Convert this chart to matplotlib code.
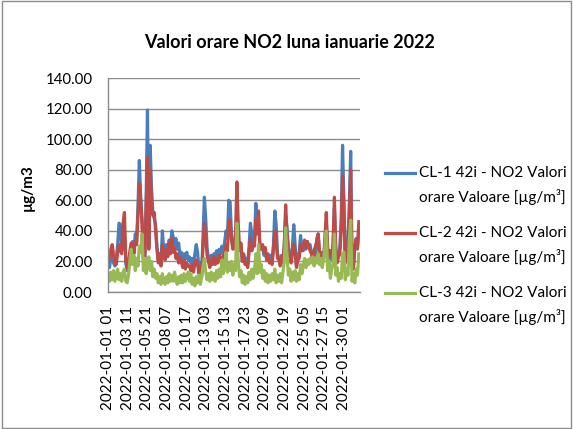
import matplotlib
matplotlib.use("Agg")
import matplotlib.pyplot as plt
from matplotlib.lines import Line2D
from matplotlib.patches import Rectangle

# Hour index (0 = 2022-01-01 01:00), sampled every 4 hours
hour_index = list(range(0, 744, 4))

tick_labels = ["2022-01-01 01", "2022-01-03 11", "2022-01-05 21", "2022-01-08 07",
               "2022-01-10 17", "2022-01-13 03", "2022-01-15 13", "2022-01-17 23",
               "2022-01-20 09", "2022-01-22 19", "2022-01-25 05", "2022-01-27 15",
               "2022-01-30 01"]
tick_positions = [0, 58, 116, 174, 232, 290, 348, 406, 464, 522, 580, 638, 696]

cl1 = [20, 16, 23, 26, 19, 17,
       22, 31, 45, 44, 27, 38,
       40, 19, 14, 18, 23, 30,
       33, 26, 38, 33, 56, 86,
       62, 48, 25, 20, 60, 119,
       30, 96, 68, 52, 48, 44,
       30, 21, 25, 19, 40, 27,
       24, 31, 26, 34, 29, 40,
       36, 31, 35, 28, 32, 24,
       26, 21, 25, 22, 26, 21,
       23, 19, 22, 18, 25, 31,
       26, 15, 19, 14, 36, 62,
       48, 29, 22, 19, 24, 20,
       25, 21, 27, 22, 28, 25,
       30, 26, 33, 40, 35, 60,
       59, 38, 30, 34, 28, 50,
       35, 27, 30, 21, 25, 19,
       22, 18, 30, 45, 38, 30,
       35, 58, 40, 45, 30, 28,
       29, 24, 27, 21, 25, 20,
       24, 20, 31, 53, 44, 25,
       22, 19, 24, 20, 31, 50,
       42, 29, 24, 20, 30, 44,
       30, 17, 23, 26, 37, 29,
       27, 32, 28, 33, 30, 31,
       26, 21, 27, 24, 35, 38,
       25, 21, 26, 22, 30, 45,
       27, 22, 25, 21, 30, 55,
       28, 20, 24, 30, 48, 96,
       60, 21, 27, 35, 58, 92,
       20, 17, 30, 35, 28, 40]

cl2 = [20, 23, 28, 31, 24, 18,
       18, 26, 31, 27, 25, 45,
       52, 21, 15, 19, 27, 32,
       30, 25, 33, 31, 50, 71,
       60, 44, 22, 19, 55, 88,
       28, 80, 58, 50, 52, 40,
       28, 19, 23, 17, 31, 24,
       21, 28, 23, 32, 25, 35,
       26, 29, 22, 25, 19, 23,
       20, 16, 21, 15, 19, 17,
       17, 14, 18, 13, 19, 21,
       18, 12, 16, 10, 30, 45,
       36, 24, 20, 16, 21, 18,
       23, 18, 22, 19, 24, 21,
       21, 24, 26, 31, 27, 47,
       47, 34, 28, 32, 38, 72,
       45, 28, 32, 20, 24, 18,
       19, 16, 26, 35, 27, 31,
       30, 47, 38, 53, 30, 28,
       31, 26, 29, 21, 24, 19,
       21, 18, 28, 40, 33, 22,
       21, 17, 23, 19, 31, 57,
       38, 27, 24, 19, 26, 31,
       25, 16, 21, 22, 31, 27,
       30, 34, 29, 33, 30, 27,
       25, 21, 27, 30, 33, 38,
       26, 22, 24, 22, 36, 52,
       29, 24, 27, 23, 32, 62,
       26, 19, 23, 25, 40, 76,
       55, 19, 25, 30, 50, 80,
       17, 15, 28, 34, 29, 46]

cl3 = [12, 7, 13, 8, 14, 7,
       11, 15, 8, 12, 7, 13,
       15, 7, 6, 11, 20, 28,
       18, 24, 14, 22, 17, 30,
       26, 38, 14, 22, 12, 19,
       23, 14, 20, 10, 15, 9,
       12, 6, 10, 5, 12, 7,
       5, 10, 6, 12, 7, 11,
       7, 13, 8, 5, 10, 6,
       11, 6, 12, 7, 10, 13,
       7, 12, 5, 9, 4, 10,
       6, 11, 5, 10, 17, 22,
       13, 8, 12, 7, 13, 8,
       12, 7, 14, 9, 15, 10,
       21, 12, 18, 26, 13, 19,
       14, 20, 11, 18, 14, 45,
       20, 10, 14, 6, 11, 5,
       10, 6, 13, 8, 15, 9,
       14, 25, 12, 31, 13, 18,
       9, 14, 7, 12, 6, 11,
       7, 12, 8, 15, 6, 11,
       7, 12, 6, 13, 20, 42,
       24, 11, 15, 7, 13, 8,
       14, 7, 12, 8, 18, 12,
       17, 22, 16, 21, 18, 22,
       19, 23, 17, 22, 19, 25,
       18, 22, 16, 21, 30, 40,
       14, 20, 9, 15, 19, 38,
       11, 16, 7, 12, 9, 25,
       26, 8, 15, 11, 34, 47,
       7, 12, 6, 15, 11, 25]

series_labels = ["CL-1 42i - NO2 Valori\norare Valoare [µg/m³]",
                 "CL-2 42i - NO2 Valori\norare Valoare [µg/m³]",
                 "CL-3 42i - NO2 Valori\norare Valoare [µg/m³]"]
colors = ["#4A7EBB", "#BE4B48", "#98B954"]

plt.rcParams['font.family'] = ['Lato', 'DejaVu Sans']

W, H = 573, 429
fig = plt.figure(figsize=(W / 100, H / 100), dpi=100)
ax = fig.add_axes([108 / W, 1 - 292 / H, 252 / W, 214 / H])

for vals, c in zip([cl1, cl2, cl3], colors):
    ax.plot(hour_index, vals, color=c, lw=2.3, solid_joinstyle='round')

ax.set_xlim(-0.5, 743.5)
ax.set_ylim(0, 140)
ax.set_yticks(range(0, 141, 20))
ax.set_yticklabels([f"{v:.2f}" for v in range(0, 141, 20)], fontsize=10.8)
ax.set_xticks(tick_positions)
ax.set_xticklabels(tick_labels, rotation=90, fontsize=11)
ax.tick_params(axis='y', length=0, pad=11)
ax.tick_params(axis='x', length=0, pad=10)
ax.yaxis.grid(True, color="#8C8C8C", lw=1)
ax.set_axisbelow(True)
for s in ["top", "right"]:
    ax.spines[s].set_visible(False)
for s in ["left", "bottom"]:
    ax.spines[s].set_color("#8C8C8C")
    ax.spines[s].set_linewidth(1)

ax.set_ylabel("µg/m3", fontsize=11, fontweight='bold')
ax.yaxis.set_label_coords((35 - 108) / 252, (292 - 188) / 214)

fig.text(290 / W, 1 - 42 / H, "Valori orare NO2 luna ianuarie 2022", ha='center',
         va='center', fontsize=13, fontweight='bold')

# Legend (Excel style: marker aligned with first text line)
legend_y = [173, 233, 293]
for y, c, lab in zip(legend_y, colors, series_labels):
    fig.add_artist(Line2D([385 / W, 415 / W], [1 - y / H, 1 - y / H], color=c, lw=2.3,
                          transform=fig.transFigure))
    first, second = lab.split("\n")
    fig.text(419 / W, 1 - y / H, first, ha='left', va='center', fontsize=11)
    fig.text(419 / W, 1 - (y + 24) / H, second, ha='left', va='center', fontsize=11)

fig.patches.append(Rectangle((0.003, 0.003), 0.994, 0.994, transform=fig.transFigure,
                             fill=False, edgecolor="#8C8C8C", lw=1))

fig.savefig("out.png", dpi=100)
